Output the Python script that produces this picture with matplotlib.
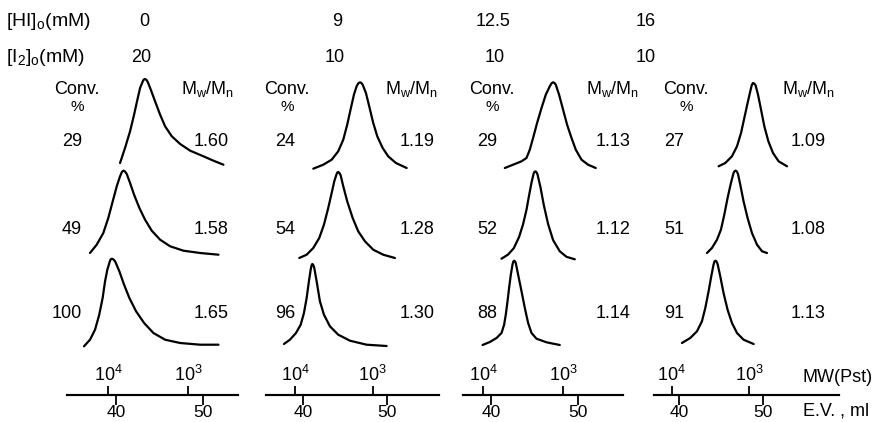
import matplotlib.pyplot as plt
import numpy as np

plt.rcParams["font.family"] = ["Liberation Sans", "DejaVu Sans"]
plt.rcParams["mathtext.fontset"] = "custom"
plt.rcParams["mathtext.rm"] = "Liberation Sans"
plt.rcParams["mathtext.it"] = "Liberation Sans"

# initial concentrations per panel
HI_CONC = ["0", "9", "12.5", "16"]
I2_CONC = ["20", "10", "10", "10"]

# conversion (%) and Mw/Mn, top row to bottom row
CONV = [[29, 49, 100], [24, 54, 96], [29, 52, 88], [27, 51, 91]]
PDI = [["1.60", "1.58", "1.65"], ["1.19", "1.28", "1.30"],
       ["1.13", "1.12", "1.14"], ["1.09", "1.08", "1.13"]]

# GPC traces: elution volume (ml) and detector signal (arb.)
HI0_EV = [
    [40.46, 41.03, 41.61, 42.07, 42.45, 42.76, 43.07, 43.18, 43.33, 43.48,
     43.64, 43.99, 44.48, 45.06, 45.63, 46.40, 47.36, 48.51, 50.03, 51.18,
     52.33],
    [37.01, 37.78, 38.54, 39.11, 39.62, 40.08, 40.46, 40.68, 40.84, 41.02,
     41.23, 41.61, 42.07, 42.68, 43.33, 44.10, 45.06, 46.21, 47.74, 49.66,
     51.76],
    [36.32, 37.01, 37.59, 38.07, 38.46, 38.74, 39.00, 39.31, 39.41, 39.51,
     39.68, 39.89, 40.38, 40.92, 41.53, 42.30, 43.22, 44.29, 45.63, 47.36,
     49.66, 51.76],
]
HI0_SIG = [
    [1.0, 16, 32.7, 49.3, 64.3, 76, 82.7, 84.4, 85, 84.2, 82, 74.3, 62.7,
     49.3, 37.7, 27.7, 20, 13.3, 7.7, 3.3, -0.7],
    [2, 10.3, 22, 37, 53.7, 68.7, 78.7, 83.2, 84.3, 83.6, 81, 72, 60.3, 47,
     35.3, 24.3, 15.3, 8.7, 4.3, 2, 0.3],
    [0.7, 7.3, 17.3, 32.3, 49, 65.7, 77.3, 86.3, 87.8, 88.3, 87.7, 85.7,
     75.7, 62.3, 49, 35.7, 24, 14, 7.3, 4, 2.3, 2.3],
]

HI9_EV = [
    [41.23, 42.42, 43.42, 44.20, 44.80, 45.27, 45.71, 46.07, 46.39, 46.60,
     46.79, 46.96, 47.11, 47.50, 47.89, 48.37, 48.85, 49.49, 50.15, 51.07,
     52.35],
    [39.56, 40.44, 41.23, 41.94, 42.50, 43.01, 43.42, 43.73, 44.01, 44.10,
     44.20, 44.33, 44.49, 44.80, 45.27, 45.92, 46.58, 47.38, 48.37, 49.56,
     50.95],
    [37.74, 38.45, 39.17, 39.73, 40.12, 40.44, 40.71, 40.92, 41.02, 41.11,
     41.22, 41.35, 41.63, 42.02, 42.50, 43.21, 44.20, 45.60, 47.58, 49.96],
]
HI9_SIG = [
    [0.3, 4.3, 9.3, 17.7, 29.3, 44.3, 61, 74.3, 82.7, 85.8, 86.7, 86, 84.3,
     76, 62.7, 46, 32.7, 21, 12.7, 6, 1.0],
    [0, 3.3, 10, 20, 33.3, 50, 65, 76.7, 84, 85.6, 86, 85.2, 82.7, 71.7,
     56.7, 40, 26.7, 16.7, 8.3, 3.3, 0],
    [2, 6.3, 13, 21.3, 33, 48, 64.7, 76.3, 80.5, 82, 81.2, 78, 64.7, 44.7,
     31.3, 19.7, 11.3, 5.3, 1.3, 0],
]

HI12_EV = [
    [41.61, 42.56, 43.53, 44.10, 44.48, 44.86, 45.32, 45.83, 46.32, 46.78,
     46.98, 47.16, 47.32, 47.47, 47.85, 48.31, 48.77, 49.28, 49.77, 50.43,
     51.18, 52.07],
    [41.23, 41.99, 42.64, 43.25, 43.71, 44.10, 44.40, 44.68, 44.94, 45.04,
     45.14, 45.25, 45.37, 45.71, 46.09, 46.59, 47.16, 47.93, 48.70, 49.66],
    [39.05, 39.89, 40.66, 41.23, 41.53, 41.72, 41.92, 42.10, 42.30, 42.49,
     42.58, 42.68, 42.77, 42.87, 43.14, 43.53, 43.91, 44.29, 44.68, 45.25,
     46.40, 47.93],
]
HI12_SIG = [
    [0, 3.3, 6.7, 10, 18.3, 30, 45, 60, 73.3, 81.7, 84.7, 85.7, 85, 83.3,
     73.3, 58.3, 43.3, 30, 18.3, 8.3, 3.3, 0],
    [0.3, 4.5, 10.8, 22, 34.8, 49.2, 63.6, 76.5, 86, 87.3, 87.6, 86.8, 84.5,
     71.7, 54, 34.8, 18.9, 7.7, 2.2, -0.3],
    [0, 3, 7, 12, 20.3, 30.3, 43.7, 57, 70.3, 80.3, 83.3, 84.3, 83.8, 82,
     70.3, 53.7, 37, 22, 12, 6.3, 2.7, 0],
]

HI16_EV = [
    [44.68, 45.48, 46.27, 46.87, 47.35, 47.74, 48.13, 48.45, 48.63, 48.77,
     48.92, 49.08, 49.37, 49.73, 50.12, 50.60, 51.15, 51.82, 52.82],
    [43.30, 43.89, 44.49, 44.96, 45.36, 45.75, 46.15, 46.46, 46.58, 46.70,
     46.84, 46.99, 47.26, 47.65, 48.13, 48.65, 49.25, 49.85, 50.44],
    [40.32, 41.31, 42.11, 42.70, 43.10, 43.49, 43.81, 44.08, 44.18, 44.29,
     44.42, 44.56, 44.88, 45.27, 45.75, 46.27, 46.87, 47.65, 48.85],
]
HI16_SIG = [
    [0.7, 4, 10.7, 20.7, 34, 49, 64, 75.7, 82, 84, 83.5, 81.7, 72.3, 57.3,
     40.7, 25.7, 14, 5.7, 0.7],
    [1, 6, 14.3, 24.3, 39.3, 56, 71, 81, 82.8, 83.3, 82.6, 80, 69.3, 52.7,
     36, 21, 9.3, 2.7, 1],
    [1, 6, 12.7, 22.7, 36, 52.7, 67.7, 79.3, 82.3, 83.3, 82.7, 80, 67.7, 51,
     34.3, 21, 11, 4.3, 0],
]

PANEL_EV = [HI0_EV, HI9_EV, HI12_EV, HI16_EV]
PANEL_SIG = [HI0_SIG, HI9_SIG, HI12_SIG, HI16_SIG]

# vertical offset of each trace (stacked)
OFFSETS = [[230, 139, 47], [225, 136, 48], [226, 135, 49], [227, 140, 50]]

EV_TICKS = [40, 50]
MW_TICKS = [4, 3]          # log10 MW
MW_TICK_LABELS = [r"$10^{4}$", r"$10^{3}$"]
# polystyrene calibration: 10^4 at 39.1 ml, 10^3 at 48.3 ml
CAL_EV = [39.1, 48.3]

# layout in pixels
W, H = 885, 422
AX_X = [(67, 238), (266, 439), (463, 623), (654, 839)]
XLIMS = [(34.37, 54.0), (35.6, 56.2), (36.8, 55.2), (37.0, 59.0)]
AX_Y = (70, 395)
CONV_X = [82, 295, 497, 684]
HEAD_X = [77, 287, 492, 686]
PDI_X = [211, 417, 613, 808]
MWMN_X = [208, 412, 613, 809]
HI_X = [144, 337, 493, 646]
I2_X = [141, 335, 495, 646]
ROW_Y = [141, 229, 314]


def fx(x):
    return x / W


def fy(y):
    return 1 - y / H


def ev_to_logmw(ev):
    slope = (MW_TICKS[1] - MW_TICKS[0]) / (CAL_EV[1] - CAL_EV[0])
    return MW_TICKS[0] + (np.asarray(ev) - CAL_EV[0]) * slope


def logmw_to_ev(lm):
    slope = (CAL_EV[1] - CAL_EV[0]) / (MW_TICKS[1] - MW_TICKS[0])
    return CAL_EV[0] + (np.asarray(lm) - MW_TICKS[0]) * slope


def draw_panel(fig, i):
    x0, x1 = AX_X[i]
    ax = fig.add_axes([fx(x0), fy(AX_Y[1]), (x1 - x0) / W,
                       (AX_Y[1] - AX_Y[0]) / H])
    ax.set_xlim(*XLIMS[i])
    ax.set_ylim(-1, AX_Y[1] - AX_Y[0] - 1)
    ax.patch.set_visible(False)
    for side in ["top", "left", "right"]:
        ax.spines[side].set_visible(False)
    ax.spines["bottom"].set_linewidth(1.5)
    ax.set_yticks([])

    for ev, sig, off in zip(PANEL_EV[i], PANEL_SIG[i], OFFSETS[i]):
        ax.plot(ev, np.asarray(sig) + off, color="black", lw=1.6,
                solid_joinstyle="round", solid_capstyle="round")

    ax.set_xticks(EV_TICKS)
    ax.tick_params(axis="x", direction="out", length=7, width=1.3, pad=0,
                   labelsize=12.5)

    sec = ax.secondary_xaxis(0.0, functions=(ev_to_logmw, logmw_to_ev))
    sec.set_alignment("top")
    sec.set_xticks(MW_TICKS)
    sec.set_xticklabels(MW_TICK_LABELS)
    sec.tick_params(direction="out", length=6.5, width=1.3, pad=1,
                    labelsize=13)
    sec.spines["top"].set_linewidth(1.5)

    # column headers and labels
    fig.text(fx(HEAD_X[i]), fy(89), "Conv.", ha="center", va="center",
             fontsize=13)
    fig.text(fx(HEAD_X[i]), fy(107), "%", ha="center", va="center",
             fontsize=11)
    fig.text(fx(MWMN_X[i]), fy(89), r"M$_\mathrm{w}$/M$_\mathrm{n}$",
             ha="center", va="center", fontsize=13)
    for r in range(3):
        fig.text(fx(CONV_X[i]), fy(ROW_Y[r]), str(CONV[i][r]), ha="right",
                 va="center", fontsize=13)
        fig.text(fx(PDI_X[i]), fy(ROW_Y[r]), PDI[i][r], ha="center",
                 va="center", fontsize=13)
    fig.text(fx(HI_X[i]), fy(22), HI_CONC[i], ha="center", va="center",
             fontsize=13)
    fig.text(fx(I2_X[i]), fy(57), I2_CONC[i], ha="center", va="center",
             fontsize=13)


def main():
    fig = plt.figure(figsize=(W / 100, H / 100), dpi=100)

    for i in range(4):
        draw_panel(fig, i)

    fig.text(fx(6), fy(22), r"[HI]$_\mathrm{o}$(mM)", ha="left",
             va="center", fontsize=14)
    fig.text(fx(6), fy(57), r"[I$_2$]$_\mathrm{o}$(mM)", ha="left",
             va="center", fontsize=14)
    fig.text(fx(803), fy(377), "MW(Pst)", ha="left", va="center",
             fontsize=13)
    fig.text(fx(803), fy(411), "E.V. , ml", ha="left", va="center",
             fontsize=13)

    fig.savefig("out.png", dpi=100)
    plt.close(fig)


if __name__ == "__main__":
    main()
